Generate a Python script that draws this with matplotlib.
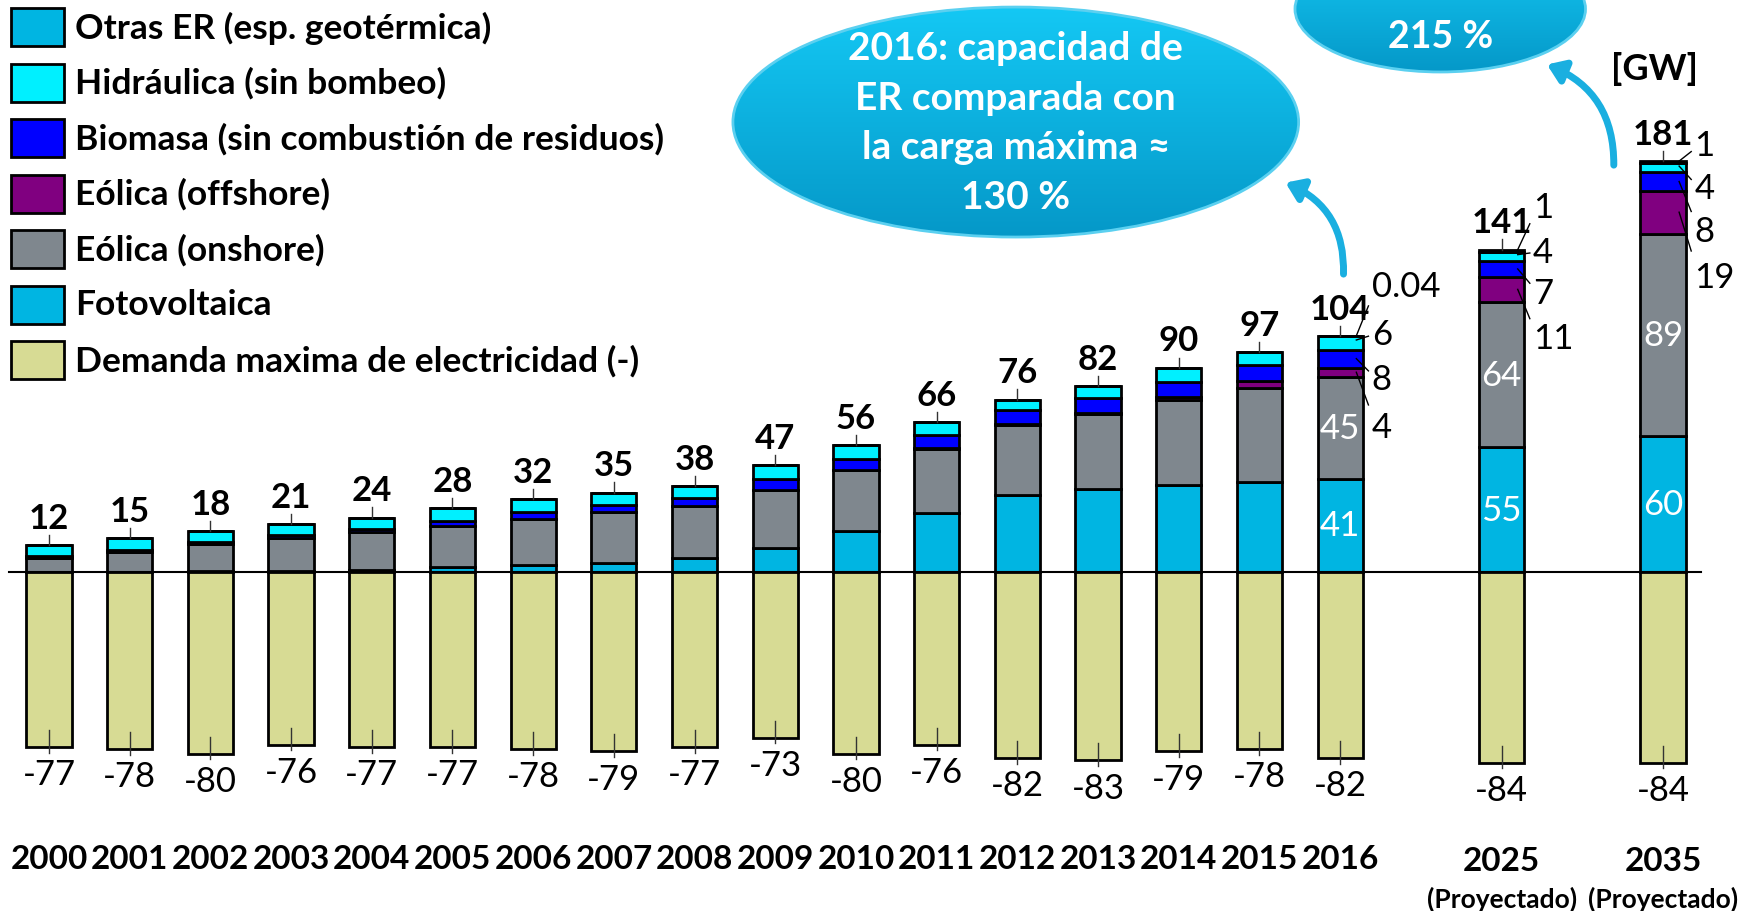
import numpy as np
import matplotlib.pyplot as plt
from matplotlib.patches import Ellipse, Rectangle, FancyArrowPatch
from matplotlib.colors import LinearSegmentedColormap

plt.rcParams['font.family'] = ['Lato', 'DejaVu Sans']

# data (GW)
years = ['2000', '2001', '2002', '2003', '2004', '2005', '2006', '2007', '2008',
         '2009', '2010', '2011', '2012', '2013', '2014', '2015', '2016', '2025', '2035']
xpos = list(range(17)) + [18, 20]
pv = [0.1, 0.2, 0.3, 0.4, 1.1, 2.1, 2.9, 4.2, 6.1, 10.6, 18.0, 25.9, 34.1, 36.7, 38.3, 39.7, 41, 55, 60]
onshore = [6.1, 8.7, 11.9, 14.4, 16.4, 18.2, 20.5, 22.1, 22.8, 25.6, 26.8, 28.5, 30.7, 32.9, 37.6, 41.2, 45, 64, 89]
offshore = [0, 0, 0, 0, 0, 0, 0, 0, 0, 0.04, 0.08, 0.19, 0.27, 0.52, 0.99, 3.3, 4, 11, 19]
biomass = [0.7, 0.8, 1.1, 1.4, 1.6, 2.2, 2.9, 3.3, 3.6, 4.6, 5.0, 5.8, 6.3, 6.6, 7.0, 7.2, 8, 7, 8]
hydro = [5.1, 5.3, 4.7, 4.8, 4.9, 5.5, 5.7, 5.4, 5.5, 6.2, 6.1, 5.6, 4.6, 5.3, 6.1, 5.6, 6, 4, 4]
other = [0, 0, 0, 0, 0, 0, 0, 0, 0, 0, 0, 0, 0, 0, 0, 0, 0.04, 1, 1]
demand = [77, 78, 80, 76, 77, 77, 78, 79, 77, 73, 80, 76, 82, 83, 79, 78, 82, 84, 84]
totals = [12, 15, 18, 21, 24, 28, 32, 35, 38, 47, 56, 66, 76, 82, 90, 97, 104, 141, 181]

labels = ['Otras ER (esp. geotérmica)', 'Hidráulica (sin bombeo)',
          'Biomasa (sin combustión de residuos)', 'Eólica (offshore)',
          'Eólica (onshore)', 'Fotovoltaica', 'Demanda maxima de electricidad (-)']
colors = ['#00B5E2', '#00F0FF', '#0000FF', '#800080', '#7F878E', '#00B5E2', '#D7DB94']

fig = plt.figure(figsize=(17.57, 9.12), dpi=100)
ax = fig.add_axes([0, 0, 1, 1])
ax.axis('off')

W = 0.56
x = np.array(xpos, dtype=float)
stack = [pv, onshore, offshore, biomass, hydro, other]
stack_colors = ['#00B5E2', '#7F878E', '#800080', '#0000FF', '#00F0FF', '#00B5E2']
bottom = np.zeros(len(x))
for vals, c in zip(stack, stack_colors):
    v = np.array(vals, dtype=float)
    ax.bar(x, v, W, bottom=bottom, color=c, edgecolor='black', linewidth=2, zorder=3)
    bottom += v
top = bottom.copy()
dem = -np.array(demand, dtype=float)
ax.bar(x, dem, W, color='#D7DB94', edgecolor='black', linewidth=2, zorder=3)
ax.plot([-0.5, 20.47], [0, 0], color='black', lw=1.5, zorder=4)

# totals, demand labels, years
for i in range(len(x)):
    ax.plot([x[i], x[i]], [top[i], top[i] + 4.5], color='#333333', lw=1, zorder=4)
    ax.text(x[i], top[i] + 12, str(totals[i]), ha='center', va='center',
            fontsize=25, fontweight='bold', zorder=5)
    ax.plot([x[i], x[i]], [dem[i] + 7.5, dem[i] - 2.5], color='#333333', lw=1, zorder=4)
    ax.text(x[i], dem[i] - 12, str(int(dem[i])), ha='center', va='center',
            fontsize=25, zorder=5)
    ax.text(x[i], -126 if i < 17 else -127, years[i], ha='center', va='center',
            fontsize=24, fontweight='bold')
for i in (17, 18):
    ax.text(x[i], -143.5, '(Proyectado)', ha='center', va='center', fontsize=19, fontweight='bold')

# values inside bars
for i in (16, 17, 18):
    ax.text(x[i], pv[i] / 2, str(pv[i]), ha='center', va='center', color='white', fontsize=25, zorder=5)
    ax.text(x[i], pv[i] + onshore[i] / 2, str(onshore[i]), ha='center', va='center',
            color='white', fontsize=25, zorder=5)

# side labels with leader lines
side_y = {16: [126, 105, 85, 64], 17: [161, 141, 123, 103], 18: [188, 169, 150, 130]}
for i, ys in side_y.items():
    b_off = pv[i] + onshore[i]
    b_bio = b_off + offshore[i]
    b_hyd = b_bio + biomass[i]
    segs = [(top[i], other[i]), (b_hyd + hydro[i] * 0.7, hydro[i]),
            (b_bio + biomass[i] / 2, biomass[i]), (b_off + offshore[i] / 2, offshore[i])]
    for (sy, val), ly in zip(segs, ys):
        ex = x[i] + 0.35
        ey = sy + 0.6 * (ly - sy)
        ax.plot([x[i] + 0.2, ex], [sy, ey], color='black', lw=1, zorder=6)
        txt = '0.04' if val == 0.04 else str(int(round(val)))
        ax.text(x[i] + 0.39, ly, txt, ha='left', va='center', fontsize=25, zorder=5)


def fx(px):
    return px / 1757


def fy(py):
    return 1 - py / 912


# legend
for k, (lab, c) in enumerate(zip(labels, colors)):
    yc = 28 + 55.5 * k
    fig.patches.append(Rectangle((fx(11), fy(yc + 19)), fx(53), 38 / 912, facecolor=c,
                                 edgecolor='black', lw=2, transform=fig.transFigure))
    fig.text(fx(75), fy(yc), lab, ha='left', va='center', fontsize=25.5, fontweight='bold')

# callout ellipses
grad = np.linspace(0, 1, 256).reshape(-1, 1)
cmap = LinearSegmentedColormap.from_list('g', ['#0598C8', '#14C8F4'])
for cx, cy, w, h in [(11.98, 198.2, 7.01, 101.3), (17.24, 248, 3.6, 55.5)]:
    e = Ellipse((cx, cy), w, h, facecolor='none', edgecolor='#5BD0F0', lw=2, zorder=7)
    ax.add_patch(e)
    im = ax.imshow(grad, cmap=cmap, origin='lower', aspect='auto',
                   extent=[cx - w / 2, cx + w / 2, cy - h / 2, cy + h / 2], zorder=6)
    im.set_clip_path(e)
ax.set_xlim(-0.607, 21.165)
ax.set_ylim(-149.3, 252.4)

ax.text(11.98, 198.2, '2016: capacidad de\nER comparada con\nla carga máxima ≈\n130 %',
        ha='center', va='center', color='white', fontsize=28, fontweight='bold',
        linespacing=1.5, zorder=8)
ax.text(17.24, 236, '215 %', ha='center', va='center', color='white', fontsize=27,
        fontweight='bold', zorder=8)
ax.text(19.9, 222, '[GW]', ha='center', va='center', fontsize=26, fontweight='bold')

# curved arrows
for (x1, y1), (x2, y2) in [((16.04, 130), (15.29, 172)), ((19.39, 178), (18.53, 224))]:
    ar = FancyArrowPatch((x1, y1), (x2, y2), connectionstyle='arc3,rad=0.35',
                         arrowstyle='-|>,head_length=10,head_width=7', color='#1AAFE0',
                         lw=5, zorder=6)
    ax.add_patch(ar)

fig.savefig('out.png', dpi=100)
